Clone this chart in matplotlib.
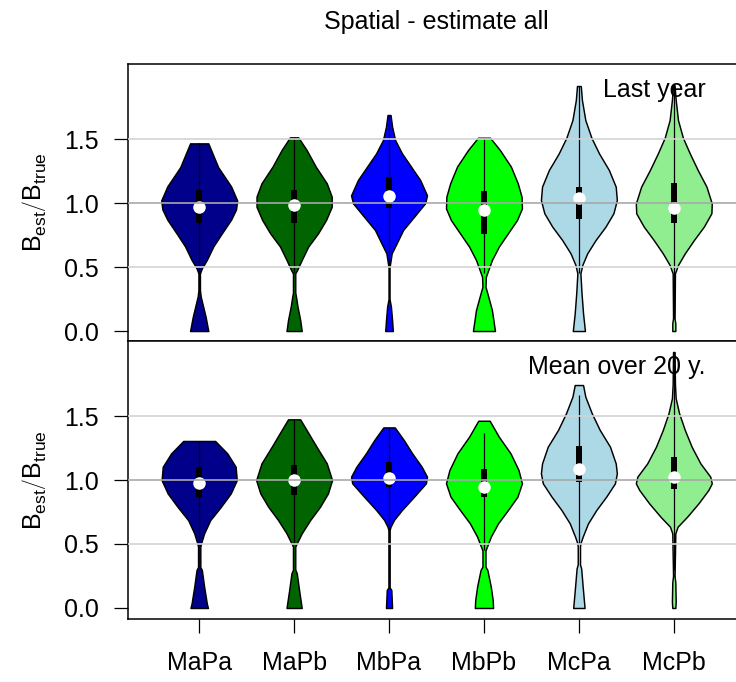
import matplotlib
matplotlib.use("Agg")
import matplotlib.pyplot as plt
from matplotlib.patches import Rectangle

plt.rcParams['font.family'] = ['Liberation Sans', 'DejaVu Sans']
plt.rcParams['mathtext.fontset'] = 'custom'
plt.rcParams['mathtext.rm'] = 'Liberation Sans'
plt.rcParams['mathtext.it'] = 'Liberation Sans'

# ---------------- data ----------------
categories = ["MaPa", "MaPb", "MbPa", "MbPb", "McPa", "McPb"]
colors = ["#00008B", "#006400", "#0000FF", "#00FF00", "#ADD8E6", "#90EE90"]
panel_labels = ["Last year", "Mean over 20 y."]
title = "Spatial - estimate all"
yticks = [0.0, 0.5, 1.0, 1.5]
ytick_labels = ["0.0", "0.5", "1.0", "1.5"]

# violin profiles: value levels and relative density (1 = widest)
top_MaPa_y = [0.0, 0.11, 0.27, 0.32, 0.45, 0.49, 0.555, 0.66, 0.76, 0.87, 0.95, 1.02, 1.13, 1.28, 1.466]
top_MaPa_d = [0.24, 0.17, 0.04, 0.02, 0.02, 0.07, 0.20, 0.37, 0.59, 0.84, 0.97, 1.0, 0.84, 0.50, 0.24]
top_MaPb_y = [0.0, 0.086, 0.19, 0.268, 0.30, 0.45, 0.477, 0.555, 0.659, 0.763, 0.867, 0.97, 1.05, 1.154, 1.284, 1.414, 1.513]
top_MaPb_d = [0.20, 0.16, 0.09, 0.05, 0.03, 0.03, 0.08, 0.20, 0.37, 0.63, 0.84, 0.99, 0.99, 0.86, 0.57, 0.33, 0.11]
top_MbPa_y = [0.0, 0.086, 0.19, 0.25, 0.5, 0.529, 0.607, 0.685, 0.789, 0.893, 0.998, 1.06, 1.18, 1.284, 1.388, 1.492, 1.597, 1.6875]
top_MbPa_d = [0.10, 0.08, 0.05, 0.013, 0.013, 0.03, 0.07, 0.20, 0.37, 0.66, 0.95, 1.0, 0.82, 0.58, 0.34, 0.16, 0.08, 0.04]
top_MbPb_y = [0.0, 0.164, 0.294, 0.346, 0.424, 0.49, 0.555, 0.659, 0.763, 0.867, 0.958, 1.05, 1.154, 1.284, 1.414, 1.51]
top_MbPb_d = [0.29, 0.21, 0.09, 0.04, 0.05, 0.13, 0.21, 0.39, 0.63, 0.87, 1.0, 0.99, 0.89, 0.71, 0.42, 0.16]
top_McPa_y = [0.0, 0.138, 0.294, 0.45, 0.516, 0.607, 0.711, 0.815, 0.92, 1.023, 1.128, 1.258, 1.388, 1.51, 1.648, 1.805, 1.914]
top_McPa_d = [0.16, 0.11, 0.07, 0.04, 0.09, 0.22, 0.44, 0.70, 0.91, 1.0, 0.97, 0.79, 0.53, 0.33, 0.17, 0.08, 0.05]
top_McPb_y = [0.0, 0.06, 0.10, 0.45, 0.516, 0.607, 0.711, 0.815, 0.92, 0.997, 1.128, 1.258, 1.388, 1.51, 1.648, 1.805, 1.92]
top_McPb_d = [0.04, 0.04, 0.02, 0.03, 0.11, 0.29, 0.53, 0.79, 0.99, 1.0, 0.86, 0.63, 0.42, 0.24, 0.11, 0.05, 0.02]

bot_MaPa_y = [0.0, 0.036, 0.167, 0.297, 0.32, 0.48, 0.505, 0.583, 0.686, 0.79, 0.895, 0.999, 1.104, 1.208, 1.305]
bot_MaPa_d = [0.23, 0.20, 0.13, 0.07, 0.03, 0.03, 0.05, 0.13, 0.29, 0.57, 0.83, 0.99, 0.96, 0.74, 0.42]
bot_MaPb_y = [0.0, 0.141, 0.271, 0.30, 0.48, 0.505, 0.583, 0.686, 0.79, 0.895, 0.999, 1.13, 1.26, 1.39, 1.474]
bot_MaPb_d = [0.20, 0.13, 0.07, 0.03, 0.03, 0.07, 0.20, 0.42, 0.68, 0.89, 1.0, 0.86, 0.59, 0.33, 0.16]
bot_MbPa_y = [0.0, 0.141, 0.16, 0.61, 0.635, 0.688, 0.766, 0.87, 0.974, 1.026, 1.104, 1.208, 1.312, 1.411]
bot_MbPa_d = [0.08, 0.06, 0.016, 0.016, 0.04, 0.13, 0.34, 0.66, 0.97, 1.0, 0.86, 0.61, 0.39, 0.15]
bot_MbPb_y = [0.0, 0.063, 0.167, 0.297, 0.323, 0.45, 0.48, 0.557, 0.661, 0.765, 0.869, 0.974, 1.078, 1.208, 1.339, 1.463]
bot_MbPb_d = [0.24, 0.23, 0.18, 0.09, 0.04, 0.04, 0.08, 0.18, 0.37, 0.63, 0.88, 1.0, 0.91, 0.70, 0.39, 0.15]
bot_McPa_y = [0.0, 0.167, 0.31, 0.34, 0.48, 0.505, 0.557, 0.661, 0.766, 0.87, 0.974, 1.052, 1.13, 1.26, 1.391, 1.521, 1.651, 1.742]
bot_McPa_d = [0.15, 0.10, 0.06, 0.03, 0.03, 0.04, 0.10, 0.24, 0.46, 0.72, 0.95, 1.0, 0.97, 0.82, 0.55, 0.34, 0.17, 0.11]
bot_McPb_y = [0.0, 0.05, 0.2, 0.25, 0.583, 0.635, 0.713, 0.818, 0.922, 0.974, 1.026, 1.13, 1.26, 1.391, 1.521, 1.638, 1.75, 2.0]
bot_McPb_d = [0.04, 0.05, 0.04, 0.02, 0.04, 0.10, 0.35, 0.65, 0.91, 1.0, 0.96, 0.70, 0.47, 0.29, 0.14, 0.05, 0.03, 0.02]

# box statistics
top_q1 = [0.84, 0.84, 0.96, 0.76, 0.872, 0.846]
top_q3 = [1.10, 1.10, 1.20, 1.09, 1.128, 1.154]
top_median = [0.97, 0.985, 1.057, 0.945, 1.036, 0.958]
top_whisk_lo = [0.45, 0.45, 0.50, 0.45, 0.45, 0.10]
top_whisk_hi = [1.466, 1.513, 1.6875, 1.51, 1.914, 1.92]

bot_q1 = [0.87, 0.883, 0.948, 0.87, 0.987, 0.927]
bot_q3 = [1.104, 1.117, 1.143, 1.083, 1.266, 1.177]
bot_median = [0.974, 1.0, 1.013, 0.948, 1.086, 1.026]
bot_whisk_lo = [0.50, 0.50, 0.60, 0.45, 0.50, 0.30]
bot_whisk_hi = [1.305, 1.47, 1.41, 1.365, 1.664, 2.0]

top_profiles = [(top_MaPa_y, top_MaPa_d), (top_MaPb_y, top_MaPb_d), (top_MbPa_y, top_MbPa_d),
                (top_MbPb_y, top_MbPb_d), (top_McPa_y, top_McPa_d), (top_McPb_y, top_McPb_d)]
bot_profiles = [(bot_MaPa_y, bot_MaPa_d), (bot_MaPb_y, bot_MaPb_d), (bot_MbPa_y, bot_MbPa_d),
                (bot_MbPb_y, bot_MbPb_d), (bot_McPa_y, bot_McPa_d), (bot_McPb_y, bot_McPb_d)]

# ---------------- figure ----------------
W, H = 736, 682
fig = plt.figure(figsize=(W / 100, H / 100), dpi=100)

left = 128 / W
width = 617 / W
ax_top = fig.add_axes([left, 1 - 340.5 / H, width, (340.5 - 64) / H])
ax_bot = fig.add_axes([left, 1 - 619 / H, width, (619 - 340.5) / H])

FS = 18
half_max = 0.4


def draw_panel(ax, profiles, q1, q3, med, wlo, whi, label, ylim):
    for i, (ys, ds) in enumerate(profiles):
        c = i + 1
        hw = [d * half_max for d in ds]
        ax.fill_betweenx(ys, [c - h for h in hw], [c + h for h in hw],
                         facecolor=colors[i], edgecolor="black", linewidth=1.05, zorder=2)
        ax.plot([c, c], [wlo[i], whi[i]], color="black", lw=0.9, zorder=3, solid_capstyle="butt")
        ax.add_patch(Rectangle((c - 0.032, q1[i]), 0.064, q3[i] - q1[i],
                               facecolor="black", edgecolor="none", zorder=4))
        ax.plot([c], [med[i]], marker="o", markersize=9, color="white",
                markeredgecolor="none", zorder=5, linestyle="none")
    ax.axhline(0.5, color="#D3D3D3", lw=1.2, zorder=6)
    ax.axhline(1.5, color="#D3D3D3", lw=1.2, zorder=6)
    ax.axhline(1.0, color="#A9A9A9", lw=1.2, zorder=6)
    ax.set_xlim(0.25, 6.75)
    ax.set_ylim(*ylim)
    ax.set_yticks(yticks)
    ax.set_yticklabels(ytick_labels, fontsize=FS)
    ax.tick_params(axis="y", direction="out", length=10, width=0.9, pad=11)
    for s in ax.spines.values():
        s.set_linewidth(1.1)
    ax.set_ylabel(r"$\mathrm{B_{est}}\left/\mathrm{B_{true}}\right.$", fontsize=FS)
    ax.yaxis.set_label_coords(-0.13, 0.5)
    ax.text(6.337, 1.828, label, ha="right", va="baseline", fontsize=FS, zorder=7)


draw_panel(ax_top, top_profiles, top_q1, top_q3, top_median, top_whisk_lo, top_whisk_hi,
           panel_labels[0], (-0.074, 2.086))
draw_panel(ax_bot, bot_profiles, bot_q1, bot_q3, bot_median, bot_whisk_lo, bot_whisk_hi,
           panel_labels[1], (-0.086, 2.09))

ax_top.set_xticks([])
ax_bot.set_xticks(range(1, len(categories) + 1))
ax_bot.set_xticklabels(categories, fontsize=FS)
ax_bot.tick_params(axis="x", direction="out", length=10, width=0.9, pad=13)

fig.text(436.5 / W, 1 - 29 / H, title, ha="center", va="baseline", fontsize=FS)

fig.savefig("out.png", dpi=100)
